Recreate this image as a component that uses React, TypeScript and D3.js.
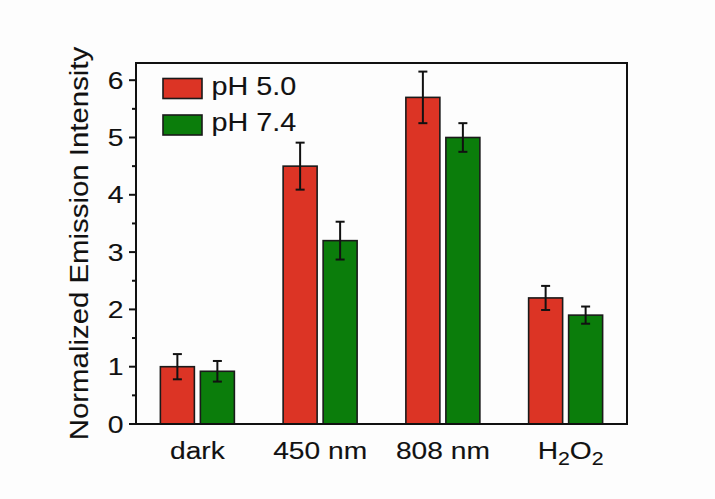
import React from "react";
import * as d3 from "d3";

const categories = ["dark", "450 nm", "808 nm", "H2O2"];
const seriesNames = ["pH 5.0", "pH 7.4"];
const ph50Values = [1.0, 4.5, 5.7, 2.2];
const ph50Errors = [0.22, 0.41, 0.45, 0.21];
const ph74Values = [0.92, 3.2, 5.0, 1.9];
const ph74Errors = [0.18, 0.33, 0.25, 0.15];
const yTicks = [0, 1, 2, 3, 4, 5, 6];
const yMinorTicks = [0.5, 1.5, 2.5, 3.5, 4.5, 5.5];
const colors = ["#dc3425", "#0b7d0b"];

const W = 715;
const H = 499;
const left = 136;
const right = 627;
const top = 63;
const bottom = 424;
const FONT = "'Liberation Sans', Arial, sans-serif";

function SText({ x, y, rot = 0, sx = 1.15, anchor = "start", size, dy, children }: any) {
  return (
    <g transform={`translate(${x},${y}) rotate(${rot}) scale(${sx},1)`}>
      <text x={0} y={0} dy={dy} textAnchor={anchor} fontSize={size} fill="#111" stroke="#111" strokeWidth={0.12}>
        {children}
      </text>
    </g>
  );
}

export default function App() {
  const x = d3.scalePoint<string>().domain(categories).range([left, right]).padding(0.5);
  const y = d3.scaleLinear().domain([0, 6.3]).range([bottom, top]);
  const barW = 34;
  const offsets = [-20, 20];
  const series = [
    { vals: ph50Values, errs: ph50Errors },
    { vals: ph74Values, errs: ph74Errors },
  ];

  return (
    <svg width={W} height={H} style={{ position: "absolute", left: 0, top: 0, background: "#fff" }} fontFamily={FONT}>
      <rect x={0} y={0} width={W} height={H} fill="#fdfdfd" />
      {series.map((s, si) =>
        categories.map((c, i) => {
          const cx = (x(c) as number) + offsets[si];
          const yt = y(s.vals[i]);
          const yHi = y(s.vals[i] + s.errs[i]);
          const yLo = y(s.vals[i] - s.errs[i]);
          return (
            <g key={`${si}-${i}`}>
              <rect x={cx - barW / 2} y={yt} width={barW} height={y(0) - yt} fill={colors[si]} stroke="#1a1a1a" strokeWidth={1.6} />
              <line x1={cx} x2={cx} y1={yHi} y2={yLo} stroke="#111" strokeWidth={2} />
              <line x1={cx - 4.5} x2={cx + 4.5} y1={yHi} y2={yHi} stroke="#111" strokeWidth={2} />
              <line x1={cx - 4.5} x2={cx + 4.5} y1={yLo} y2={yLo} stroke="#111" strokeWidth={2} />
            </g>
          );
        })
      )}
      <rect x={left} y={top} width={right - left} height={bottom - top} fill="none" stroke="#111" strokeWidth={2} />
      {yTicks.map((t) => (
        <g key={t}>
          <line x1={left - 7} x2={left} y1={y(t)} y2={y(t)} stroke="#111" strokeWidth={2} />
          <SText x={123.5} y={y(t)} dy="0.36em" anchor="end" size={24} sx={1.18}>
            {t}
          </SText>
        </g>
      ))}
      {yMinorTicks.map((t) => (
        <line key={t} x1={left - 4} x2={left} y1={y(t)} y2={y(t)} stroke="#111" strokeWidth={2} />
      ))}
      {categories.map((c) => (
        <SText key={c} x={(x(c) as number) + (c === "H2O2" ? 5 : 0)} y={459} anchor="middle" size={24.5}>
          {c === "H2O2" ? (
            <>
              <tspan>H</tspan>
              <tspan fontSize={18.5} dy={6}>2</tspan>
              <tspan dy={-6}>O</tspan>
              <tspan fontSize={18.5} dy={6}>2</tspan>
            </>
          ) : (
            c
          )}
        </SText>
      ))}
      <SText x={88} y={243.5} rot={-90} sx={1.13} anchor="middle" size={26}>
        Normalized Emission Intensity
      </SText>
      {seriesNames.map((n, i) => (
        <g key={n}>
          <rect x={163} y={78.5 + i * 36.5} width={39} height={20} fill={colors[i]} stroke="#1a1a1a" strokeWidth={1.6} />
          <SText x={211.5} y={95 + i * 36} sx={1.15} size={25}>
            {n}
          </SText>
        </g>
      ))}
    </svg>
  );
}
